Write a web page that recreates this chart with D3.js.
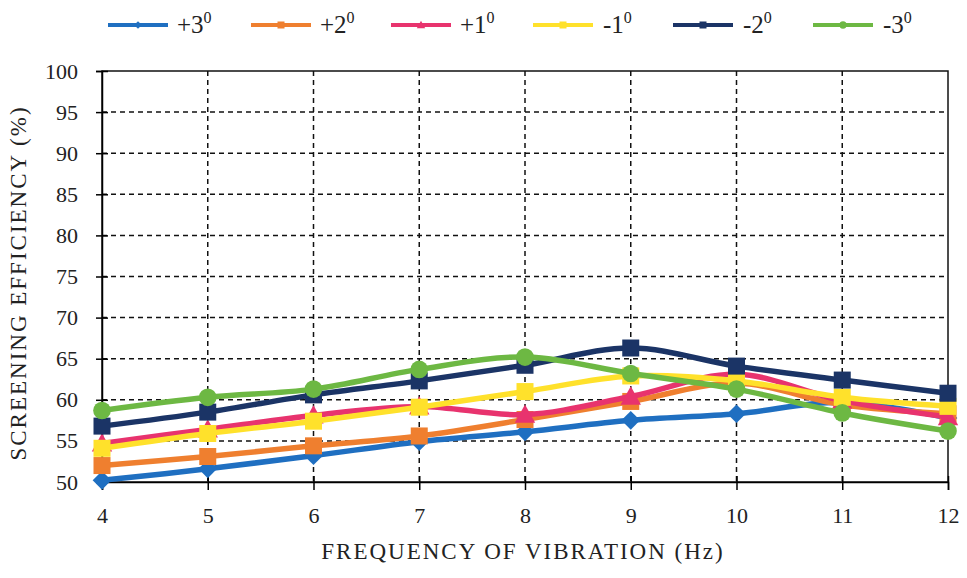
<!DOCTYPE html>
<html>
<head>
<meta charset="utf-8">
<script src="https://cdn.jsdelivr.net/npm/d3@7"></script>
<style>
  body { margin: 0; background: #fff; }
  svg text { font-family: 'Liberation Serif', 'Times New Roman', Times, serif !important; fill: #222; }
</style>
</head>
<body>
<div id="chart"></div>
<script>
let frequencies = [4, 5, 6, 7, 8, 9, 10, 11, 12]
let seriesNames = ['+3', '+2', '+1', '-1', '-2', '-3']
let seriesColors = ['#1F6FC1', '#EF7F2F', '#E8336E', '#FFE12B', '#1B3466', '#6DB843']
let seriesMarkers = ['diamond', 'square', 'triangle', 'square', 'square', 'circle']

let plus3 = [50.2, 51.6, 53.2, 54.9, 56.1, 57.5, 58.3, 59.7, 57.8]
let plus2 = [52.0, 53.1, 54.4, 55.6, 57.6, 59.8, 62.0, 59.4, 58.3]
let plus1 = [54.7, 56.4, 58.1, 59.2, 58.2, 60.4, 63.1, 59.9, 57.9]
let minus1 = [54.1, 55.9, 57.4, 59.1, 61.0, 62.9, 62.3, 60.3, 59.2]
let minus2 = [56.8, 58.5, 60.6, 62.3, 64.2, 66.3, 64.1, 62.4, 60.8]
let minus3 = [58.7, 60.3, 61.3, 63.7, 65.2, 63.2, 61.3, 58.4, 56.2]

let yTicks = [50, 55, 60, 65, 70, 75, 80, 85, 90, 95, 100]

let allSeries = [plus3, plus2, plus1, minus1, minus2, minus3]

let margin = { top: 71, left: 102, right: 19, bottom: 96 }
let width = 967 - margin.left - margin.right
let height = 578 - margin.top - margin.bottom

let svg = d3
  .select('#chart')
  .append('svg')
  .attr('width', 967)
  .attr('height', 578)

let g = svg.append('g')
  .attr('transform', 'translate(' + margin.left + ',' + margin.top + ')')

let xScale = d3.scaleLinear().domain([4, 12]).range([0, width])
let yScale = d3.scaleLinear().domain([50, 100]).range([height, 0])

// grid
g.selectAll('.hgrid')
  .data(yTicks.filter(d => d > 50 && d < 100))
  .enter()
  .append('line')
  .attr('class', 'hgrid')
  .attr('x1', 0)
  .attr('x2', width)
  .attr('y1', d => yScale(d))
  .attr('y2', d => yScale(d))
  .attr('stroke', '#111')
  .attr('stroke-width', 1.5)
  .attr('stroke-dasharray', '5,4')

g.selectAll('.vgrid')
  .data(frequencies.filter(d => d > 4 && d < 12))
  .enter()
  .append('line')
  .attr('class', 'vgrid')
  .attr('x1', d => xScale(d))
  .attr('x2', d => xScale(d))
  .attr('y1', 0)
  .attr('y2', height)
  .attr('stroke', '#111')
  .attr('stroke-width', 1.5)
  .attr('stroke-dasharray', '5,4')

// border
g.append('rect')
  .attr('width', width)
  .attr('height', height)
  .attr('fill', 'none')
  .attr('stroke', '#111')
  .attr('stroke-width', 1.5)

// axes
let xAxis = g.append('g')
  .attr('transform', `translate(0,${height})`)
  .call(d3.axisBottom(xScale).tickValues(frequencies).tickSize(8).tickPadding(17))
xAxis.select('.domain').attr('stroke-width', 1.5)
xAxis.selectAll('.tick line').attr('stroke-width', 1.5).attr('y1', -6)
xAxis.selectAll('text').attr('font-size', 22)

let yAxis = g.append('g')
  .call(d3.axisLeft(yScale).tickValues(yTicks).tickSize(6).tickPadding(18))
yAxis.select('.domain').attr('stroke-width', 1.5)
yAxis.selectAll('.tick line').attr('stroke-width', 1.5).attr('x1', 6)
yAxis.selectAll('text').attr('font-size', 22)

svg.selectAll('.tick text').attr('fill', '#222')

// axis titles
svg.append('text')
  .attr('x', margin.left + width / 2 - 2)
  .attr('y', 559)
  .attr('text-anchor', 'middle')
  .attr('font-size', 23)
  .attr('letter-spacing', 2)
  .text('FREQUENCY OF VIBRATION (Hz)')

svg.append('text')
  .attr('transform', 'translate(26,283) rotate(-90)')
  .attr('text-anchor', 'middle')
  .attr('font-size', 23)
  .attr('letter-spacing', 2)
  .text('SCREENING EFFICIENCY (%)')

// lines
let line = d3.line()
  .x((d, i) => xScale(frequencies[i]))
  .y(d => yScale(d))
  .curve(d3.curveCatmullRom)

function drawMarker(sel, type, color, size) {
  if (type === 'circle') {
    sel.append('circle').attr('r', size * 0.52).attr('fill', color)
  } else if (type === 'square') {
    sel.append('rect').attr('x', -size / 2).attr('y', -size / 2)
      .attr('width', size).attr('height', size).attr('fill', color)
  } else if (type === 'diamond') {
    let s = size * 0.55
    sel.append('path').attr('d', `M0,${-s}L${s},0L0,${s}L${-s},0Z`).attr('fill', color)
  } else if (type === 'triangle') {
    let s = size * 0.6
    sel.append('path').attr('d', `M0,${-s}L${s},${s * 0.8}L${-s},${s * 0.8}Z`).attr('fill', color)
  }
}

allSeries.forEach((values, k) => {
  let sg = g.append('g').attr('class', 'series')
  sg.append('path')
    .datum(values)
    .attr('d', line)
    .attr('fill', 'none')
    .attr('stroke', seriesColors[k])
    .attr('stroke-width', 5.5)
    .attr('stroke-linejoin', 'round')

  sg.selectAll('.marker')
    .data(values)
    .enter()
    .append('g')
    .attr('class', 'marker')
    .attr('transform', (d, i) => `translate(${xScale(frequencies[i])},${yScale(d)})`)
    .each(function () {
      drawMarker(d3.select(this), seriesMarkers[k], seriesColors[k], 17)
    })
})

// legend
let legendX = [108, 251, 391, 533, 673, 813]
let legend = svg.append('g')

legend
  .selectAll('.legend-entry')
  .data(seriesNames)
  .enter()
  .append('g')
  .attr('class', 'legend-entry')
  .attr('transform', (d, i) => `translate(${legendX[i]},25)`)
  .each(function (d, i) {
    let e = d3.select(this)
    e.append('line')
      .attr('x1', 0)
      .attr('x2', 60)
      .attr('stroke', seriesColors[i])
      .attr('stroke-width', 4)
    let m = e.append('g').attr('transform', 'translate(30,0)')
    drawMarker(m, seriesMarkers[i], seriesColors[i], 7)
    let t = e.append('text')
      .attr('x', d.charAt(0) === '+' ? 69 : 70)
      .attr('y', 8)
      .attr('font-size', 25)
      .text(d)
    t.append('tspan')
      .attr('font-size', 16)
      .attr('dy', -10)
      .text('0')
  })
</script>
</body>
</html>
